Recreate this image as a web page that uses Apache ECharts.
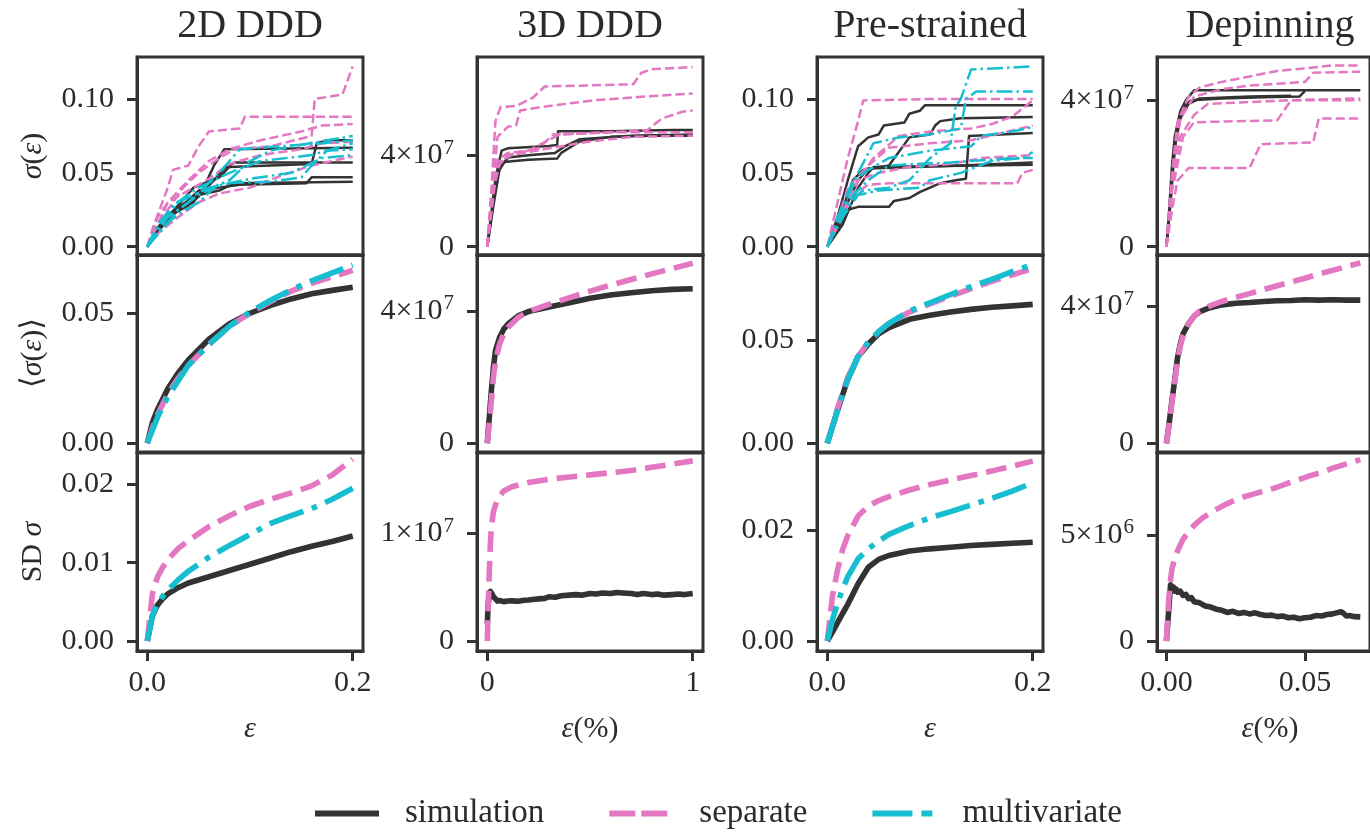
<!DOCTYPE html>
<html>
<head>
<meta charset="utf-8">
<script src="https://cdn.jsdelivr.net/npm/echarts@6/dist/echarts.min.js"></script>
<style>
  html, body { margin: 0; padding: 0; background: #ffffff; }
  #chart { width: 1370px; height: 833px; }
</style>
</head>
<body>
<div id="chart"></div>
<script>
// ---------------------------------------------------------------------------
// Labels and ticks
// ---------------------------------------------------------------------------
const panelTitles = ['2D DDD', '3D DDD', 'Pre-strained', 'Depinning'];
const seriesNames = ['simulation', 'separate', 'multivariate'];

const xTickValues = [[0, 0.2], [0, 1], [0, 0.2], [0, 0.05, 0.1]];
const xTickLabels = [['0.0', '0.2'], ['0', '1'], ['0.0', '0.2'], ['0.00', '0.05', '0.10']];
const xLimits = [[-0.01, 0.21], [-0.05, 1.05], [-0.01, 0.21], [-0.0034, 0.0735]];

const yTickValuesRow1 = [[0, 0.05, 0.1], [0, 4e7], [0, 0.05, 0.1], [0, 4e7]];
const yTickLabelsRow1 = [['0.00', '0.05', '0.10'], ['0', '4×10^7'], ['0.00', '0.05', '0.10'], ['0', '4×10^7']];
const yTickValuesRow2 = [[0, 0.05], [0, 4e7], [0, 0.05], [0, 4e7]];
const yTickLabelsRow2 = [['0.00', '0.05'], ['0', '4×10^7'], ['0.00', '0.05'], ['0', '4×10^7']];
const yTickValuesRow3 = [[0, 0.01, 0.02], [0, 1e7], [0, 0.02], [0, 5e6]];
const yTickLabelsRow3 = [['0.00', '0.01', '0.02'], ['0', '1×10^7'], ['0.00', '0.02'], ['0', '5×10^6']];

const yLimitsRow1 = [[-0.0056, 0.1284], [-0.362e7, 8.29e7], [-0.0056, 0.1284], [-0.226e7, 5.18e7]];
const yLimitsRow2 = [[-0.00335, 0.0724], [-0.263e7, 5.69e7], [-0.0042, 0.0911], [-0.255e7, 5.51e7]];
const yLimitsRow3 = [[-0.00128, 0.024], [-0.093e7, 1.743e7], [-0.0018, 0.03386], [-0.047e7, 0.8865e7]];

// Stress unit of each column (values below are given in these units)
const columnUnits = [1, 1e7, 1, 1e7];
const sdUnits = [1, 1e7, 1, 1e6];

// ---------------------------------------------------------------------------
// Row 1: individual stress-strain runs, [strain, stress]
// ---------------------------------------------------------------------------
const runs2dSimulation = [
  [[0,0],[0.008,0.01],[0.02,0.02],[0.03,0.026],[0.045,0.03],[0.055,0.04],[0.065,0.055],[0.075,0.066],[0.2,0.067]],
  [[0,0],[0.01,0.01],[0.025,0.022],[0.04,0.028],[0.05,0.034],[0.065,0.045],[0.075,0.053],[0.085,0.057],[0.2,0.057]],
  [[0,0],[0.015,0.015],[0.03,0.027],[0.05,0.035],[0.07,0.038],[0.085,0.043],[0.2,0.044]],
  [[0,0],[0.012,0.012],[0.03,0.025],[0.05,0.038],[0.07,0.04],[0.09,0.042],[0.155,0.043],[0.16,0.047],[0.2,0.047]],
  [[0,0],[0.01,0.013],[0.03,0.028],[0.045,0.04],[0.07,0.047],[0.08,0.054],[0.12,0.055],[0.16,0.056],[0.165,0.07],[0.175,0.072],[0.2,0.072]]
];
const runs2dSeparate = [
  [[0,0],[0.005,0.012],[0.012,0.025],[0.02,0.04],[0.025,0.052],[0.04,0.055],[0.05,0.068],[0.06,0.078],[0.09,0.08],[0.095,0.088],[0.2,0.088]],
  [[0,0],[0.01,0.015],[0.02,0.025],[0.035,0.04],[0.05,0.05],[0.07,0.06],[0.085,0.066],[0.12,0.068],[0.16,0.075],[0.163,0.1],[0.19,0.103],[0.2,0.122]],
  [[0,0],[0.008,0.012],[0.02,0.03],[0.04,0.045],[0.06,0.058],[0.08,0.066],[0.11,0.072],[0.15,0.078],[0.17,0.082],[0.2,0.083]],
  [[0,0],[0.012,0.01],[0.03,0.02],[0.05,0.03],[0.07,0.036],[0.1,0.04],[0.13,0.048],[0.16,0.055],[0.18,0.058],[0.2,0.061]],
  [[0,0],[0.01,0.02],[0.02,0.03],[0.04,0.038],[0.06,0.046],[0.08,0.056],[0.11,0.062],[0.15,0.066],[0.17,0.07],[0.2,0.071]]
];
const runs2dMultivariate = [
  [[0,0],[0.015,0.012],[0.03,0.025],[0.05,0.035],[0.08,0.045],[0.1,0.058],[0.12,0.065],[0.15,0.069],[0.2,0.075]],
  [[0,0],[0.01,0.01],[0.03,0.022],[0.05,0.03],[0.07,0.043],[0.12,0.044],[0.15,0.047],[0.16,0.055],[0.175,0.065],[0.2,0.066]],
  [[0,0],[0.012,0.015],[0.03,0.03],[0.06,0.04],[0.1,0.046],[0.14,0.05],[0.17,0.06],[0.2,0.062]],
  [[0,0],[0.02,0.02],[0.04,0.03],[0.07,0.05],[0.09,0.066],[0.13,0.068],[0.17,0.07],[0.2,0.072]],
  [[0,0],[0.01,0.015],[0.025,0.028],[0.05,0.04],[0.08,0.05],[0.11,0.058],[0.16,0.062],[0.2,0.07]]
];

// 3D DDD runs, stress in units of 1e7
const runs3dSimulation = [
  [[0,0],[0.02,1.5],[0.04,3.0],[0.07,4.2],[0.1,4.3],[0.3,4.4],[0.34,4.45],[0.345,5.05],[0.6,5.05],[0.9,5.1],[1,5.1]],
  [[0,0],[0.02,1.3],[0.05,3.2],[0.08,3.7],[0.2,3.8],[0.34,3.85],[0.36,4.1],[0.45,4.6],[0.6,4.8],[0.8,4.85],[1,4.85]],
  [[0,0],[0.03,1.8],[0.06,3.4],[0.1,3.9],[0.2,4.0],[0.33,4.1],[0.38,4.4],[0.45,4.7],[0.7,4.85],[1,4.9]]
];
const runs3dSeparate = [
  [[0,0],[0.02,2.5],[0.04,5.5],[0.065,6.1],[0.14,6.15],[0.22,6.5],[0.28,7.0],[0.5,7.05],[0.71,7.1],[0.75,7.6],[0.8,7.75],[1,7.85]],
  [[0,0],[0.02,2.0],[0.05,4.8],[0.1,5.24],[0.14,5.3],[0.16,5.95],[0.26,6.1],[0.52,6.4],[0.75,6.55],[1,6.7]],
  [[0,0],[0.02,2.2],[0.05,3.8],[0.1,4.1],[0.2,4.2],[0.35,4.9],[0.6,5.0],[0.78,5.1],[0.85,5.6],[0.95,5.9],[1,5.95]],
  [[0,0],[0.03,2.5],[0.06,3.6],[0.1,4.0],[0.25,4.3],[0.32,4.9],[0.6,5.0],[1,5.0]],
  [[0,0],[0.02,1.5],[0.05,3.7],[0.12,4.0],[0.3,4.3],[0.5,4.6],[0.7,4.8],[1,4.85]]
];

// Pre-strained runs
const runsPreSimulation = [
  [[0,0],[0.01,0.02],[0.02,0.045],[0.03,0.068],[0.04,0.074],[0.05,0.076],[0.055,0.082],[0.075,0.084],[0.08,0.09],[0.09,0.092],[0.095,0.0957],[0.2,0.0957]],
  [[0,0],[0.012,0.02],[0.025,0.045],[0.035,0.052],[0.06,0.055],[0.08,0.074],[0.1,0.076],[0.105,0.082],[0.11,0.085],[0.13,0.087],[0.2,0.0878]],
  [[0,0],[0.015,0.015],[0.03,0.04],[0.04,0.05],[0.045,0.054],[0.2,0.0555]],
  [[0,0],[0.01,0.012],[0.02,0.025],[0.03,0.027],[0.06,0.027],[0.065,0.031],[0.08,0.033],[0.09,0.037],[0.1,0.04],[0.11,0.043],[0.125,0.045],[0.135,0.046],[0.138,0.075],[0.2,0.077]],
  [[0,0],[0.01,0.015],[0.02,0.03],[0.03,0.045],[0.04,0.053],[0.13,0.055],[0.2,0.057]]
];
const runsPreSeparate = [
  [[0,0],[0.01,0.03],[0.02,0.06],[0.03,0.085],[0.035,0.099],[0.1,0.1],[0.2,0.1]],
  [[0,0],[0.015,0.02],[0.03,0.045],[0.045,0.06],[0.07,0.075],[0.1,0.078],[0.14,0.08],[0.16,0.083],[0.18,0.088],[0.2,0.099]],
  [[0,0],[0.01,0.015],[0.025,0.035],[0.04,0.042],[0.06,0.043],[0.12,0.043],[0.185,0.043],[0.19,0.05],[0.2,0.052]],
  [[0,0],[0.012,0.02],[0.03,0.045],[0.05,0.05],[0.08,0.054],[0.12,0.056],[0.15,0.06],[0.2,0.062]],
  [[0,0],[0.01,0.018],[0.02,0.04],[0.04,0.055],[0.06,0.067],[0.1,0.07],[0.14,0.072],[0.2,0.082]]
];
const runsPreMultivariate = [
  [[0,0],[0.01,0.015],[0.02,0.03],[0.035,0.038],[0.06,0.04],[0.08,0.045],[0.1,0.06],[0.12,0.07],[0.125,0.095],[0.13,0.1],[0.14,0.12],[0.2,0.122]],
  [[0,0],[0.015,0.025],[0.03,0.05],[0.045,0.07],[0.07,0.074],[0.1,0.076],[0.13,0.08],[0.135,0.1],[0.145,0.105],[0.2,0.105]],
  [[0,0],[0.01,0.02],[0.025,0.045],[0.04,0.052],[0.06,0.06],[0.1,0.065],[0.14,0.068],[0.15,0.075],[0.18,0.078],[0.2,0.081]],
  [[0,0],[0.015,0.02],[0.03,0.035],[0.05,0.038],[0.09,0.04],[0.1,0.045],[0.13,0.05],[0.16,0.058],[0.19,0.06],[0.2,0.064]],
  [[0,0],[0.012,0.018],[0.025,0.035],[0.04,0.045],[0.06,0.055],[0.12,0.057],[0.18,0.06],[0.2,0.06]]
];

// Depinning runs, stress in units of 1e7
const runsDepSimulation = [
  [[0,0],[0.001,1.0],[0.002,2.2],[0.003,3.0],[0.005,3.7],[0.007,4.0],[0.01,4.27],[0.07,4.27]],
  [[0,0],[0.001,0.8],[0.0025,2.3],[0.004,3.3],[0.006,3.8],[0.009,4.0],[0.02,4.05],[0.035,4.08],[0.048,4.1],[0.05,4.25]],
  [[0,0],[0.0015,1.2],[0.003,2.7],[0.005,3.5],[0.008,3.9],[0.012,4.05],[0.03,4.1],[0.045,4.12]]
];
const runsDepSeparate = [
  [[0,0],[0.002,2.0],[0.004,3.4],[0.008,4.1],[0.012,4.35],[0.02,4.5],[0.03,4.65],[0.04,4.8],[0.05,4.87],[0.06,4.95],[0.07,4.95]],
  [[0,0],[0.002,1.8],[0.005,3.5],[0.01,4.1],[0.02,4.3],[0.03,4.4],[0.05,4.5],[0.053,4.75],[0.07,4.78]],
  [[0,0],[0.002,1.6],[0.005,3.0],[0.01,3.6],[0.015,3.9],[0.03,3.95],[0.045,4.0],[0.07,4.05]],
  [[0,0],[0.002,1.5],[0.006,3.0],[0.01,3.4],[0.04,3.45],[0.045,4.0],[0.07,4.0]],
  [[0,0],[0.002,1.0],[0.004,1.8],[0.008,2.15],[0.03,2.15],[0.034,2.8],[0.053,2.85],[0.055,3.5],[0.07,3.5]]
];

// ---------------------------------------------------------------------------
// Row 2: mean stress, row 3: standard deviation (strain grid + values)
// ---------------------------------------------------------------------------
const strainMean2d = [0,0.005,0.01,0.02,0.03,0.04,0.06,0.08,0.1,0.12,0.14,0.16,0.18,0.2];
const mean2dSimulation = [0,0.008,0.013,0.021,0.027,0.032,0.040,0.046,0.050,0.053,0.0555,0.0575,0.0588,0.0600];
const mean2dSeparate = [0,0.006,0.011,0.019,0.025,0.030,0.038,0.045,0.050,0.0545,0.0585,0.0615,0.064,0.0665];
const mean2dMultivariate = [0,0.005,0.010,0.018,0.024,0.030,0.038,0.045,0.0505,0.055,0.059,0.0625,0.0655,0.0685];

const strainMean3d = [0,0.005,0.01,0.02,0.03,0.04,0.06,0.08,0.1,0.15,0.2,0.3,0.4,0.5,0.6,0.7,0.8,0.9,1.0];
const mean3dSimulation = [0,0.4,0.8,1.6,2.3,2.8,3.2,3.45,3.6,3.85,3.98,4.12,4.25,4.38,4.48,4.55,4.61,4.65,4.67];
const mean3dSeparate = [0,0.3,0.6,1.3,2.0,2.5,3.0,3.3,3.5,3.8,3.98,4.2,4.4,4.6,4.78,4.95,5.12,5.28,5.44];

const strainMeanPre = [0,0.01,0.02,0.03,0.04,0.05,0.06,0.08,0.1,0.12,0.14,0.16,0.18,0.2];
const meanPreSimulation = [0,0.016,0.031,0.042,0.048,0.053,0.056,0.060,0.062,0.0635,0.0648,0.0658,0.0665,0.0672];
const meanPreSeparate = [0,0.017,0.032,0.042,0.049,0.054,0.058,0.0635,0.0675,0.0712,0.0748,0.0783,0.0815,0.0845];
const meanPreMultivariate = [0,0.016,0.031,0.042,0.049,0.054,0.058,0.064,0.068,0.072,0.0758,0.0793,0.083,0.0865];

const strainMeanDep = [0,0.001,0.002,0.003,0.004,0.005,0.006,0.008,0.01,0.012,0.015,0.02,0.025,0.03,0.035,0.04,0.045,0.05,0.055,0.06,0.065,0.07];
const meanDepSimulation = [0,0.6,1.25,1.85,2.5,2.9,3.2,3.5,3.72,3.85,3.95,4.05,4.1,4.12,4.15,4.17,4.18,4.2,4.19,4.2,4.19,4.19];
const meanDepSeparate = [0,0.55,1.2,1.8,2.4,2.85,3.15,3.5,3.72,3.87,4.0,4.15,4.27,4.38,4.5,4.61,4.72,4.83,4.95,5.06,5.17,5.28];

const strainSd2d = [0,0.005,0.01,0.015,0.02,0.03,0.04,0.06,0.08,0.1,0.12,0.14,0.16,0.18,0.2];
const sd2dSimulation = [0,0.0032,0.0046,0.0054,0.006,0.0068,0.0074,0.0082,0.009,0.0098,0.0106,0.0114,0.0121,0.0127,0.0134];
const sd2dSeparate = [0,0.006,0.0082,0.0094,0.0104,0.0118,0.0128,0.0146,0.016,0.0172,0.0181,0.0189,0.0198,0.0212,0.0232];
const sd2dMultivariate = [0,0.0032,0.0048,0.0057,0.0065,0.0078,0.0089,0.0107,0.0122,0.0136,0.015,0.016,0.0169,0.0181,0.0195];

const strainSd3dSim = [0,0.005,0.01,0.015,0.02,0.025,0.03,0.04,0.05,0.06,0.08,0.1,0.12,0.15,0.18,0.2,0.22,0.25,0.28,0.3,0.33,0.36,0.4,0.43,0.46,0.5,0.53,0.56,0.6,0.63,0.66,0.7,0.73,0.76,0.8,0.83,0.86,0.9,0.93,0.96,1.0];
const sd3dSimulation = [0.16,0.35,0.44,0.46,0.45,0.43,0.41,0.39,0.37,0.375,0.365,0.37,0.372,0.368,0.378,0.38,0.385,0.39,0.395,0.41,0.405,0.42,0.425,0.43,0.425,0.44,0.435,0.445,0.44,0.45,0.445,0.44,0.43,0.44,0.43,0.435,0.425,0.43,0.435,0.43,0.44];
const strainSd3d = [0,0.005,0.01,0.015,0.02,0.03,0.05,0.08,0.12,0.2,0.3,0.4,0.5,0.6,0.7,0.8,0.9,1.0];
const sd3dSeparate = [0,0.35,0.65,0.9,1.05,1.2,1.32,1.39,1.43,1.47,1.5,1.52,1.54,1.56,1.58,1.61,1.64,1.67];

const strainSdPre = [0,0.005,0.01,0.015,0.02,0.03,0.04,0.05,0.06,0.08,0.1,0.12,0.14,0.16,0.18,0.2];
const sdPreSimulation = [0,0.0016,0.0033,0.005,0.0066,0.0103,0.0133,0.0147,0.0154,0.0162,0.0166,0.0169,0.0172,0.0174,0.0176,0.0178];
const sdPreSeparate = [0,0.008,0.0128,0.0165,0.019,0.0225,0.0243,0.0253,0.026,0.0272,0.0282,0.029,0.0298,0.0306,0.0315,0.0324];
const sdPreMultivariate = [0,0.0038,0.0068,0.0094,0.0116,0.0148,0.0166,0.018,0.0192,0.0208,0.0222,0.0233,0.0245,0.0257,0.027,0.0285];

const strainSdDepSim = [0,0.0008,0.0015,0.002,0.0025,0.003,0.0035,0.004,0.005,0.006,0.007,0.008,0.009,0.01,0.012,0.014,0.016,0.018,0.02,0.022,0.024,0.026,0.028,0.03,0.032,0.034,0.036,0.038,0.04,0.042,0.044,0.046,0.048,0.05,0.052,0.054,0.056,0.058,0.06,0.062,0.063,0.064,0.065,0.066,0.068,0.07];
const sdDepSimulation = [0,1.4,2.65,2.45,2.55,2.35,2.45,2.3,2.35,2.15,2.2,2.0,2.05,1.85,1.8,1.65,1.6,1.5,1.45,1.35,1.4,1.3,1.35,1.28,1.33,1.25,1.2,1.22,1.15,1.18,1.1,1.12,1.05,1.1,1.12,1.2,1.18,1.25,1.28,1.35,1.38,1.3,1.18,1.2,1.15,1.14];
const strainSdDep = [0,0.0008,0.0015,0.002,0.003,0.004,0.006,0.008,0.01,0.013,0.016,0.02,0.024,0.028,0.032,0.036,0.04,0.044,0.048,0.052,0.056,0.06,0.063,0.065,0.068,0.07];
const sdDepSeparate = [0,1.9,2.9,3.4,3.9,4.25,4.8,5.15,5.45,5.8,6.05,6.35,6.6,6.8,6.95,7.1,7.25,7.45,7.62,7.8,7.95,8.15,8.27,8.35,8.47,8.55];

// ---------------------------------------------------------------------------
// Layout and style
// ---------------------------------------------------------------------------
const SERIF = "'Liberation Serif', 'DejaVu Serif', serif";
const INK = '#2b2b2b';
const FRAME = '#333333';
const COLORS = { simulation: '#333333', separate: '#e377c2', multivariate: '#17becf' };
const COL_LEFT = [137, 477, 817, 1157];
const COL_WIDTH = 226;
const ROW_TOP = [57, 255, 453];
const ROW_HEIGHT = [198, 197, 198];
const THIN = 2.5;
const THICK = 5.6;
const TICK_FONT = 30;

function dashFor(name, w) {
  if (name === 'separate') return [3.7 * w, 1.6 * w];
  if (name === 'multivariate') return [6.4 * w, 1.6 * w, 1.0 * w, 1.6 * w];
  return 'solid';
}

function tickFormatter(values, labels) {
  return function (v) {
    const i = values.findIndex(t => Math.abs(t - v) <= 1e-9 * Math.max(1, Math.abs(t)));
    if (i < 0) return '';
    const s = labels[i];
    const k = s.indexOf('^');
    return k < 0 ? s : '{m|' + s.slice(0, k) + '}{s|' + s.slice(k + 1) + '}';
  };
}

const tickRich = {
  m: { fontSize: TICK_FONT, fontFamily: SERIF, color: INK, lineHeight: 35 },
  s: { fontSize: 21, fontFamily: SERIF, color: INK, verticalAlign: 'top', lineHeight: 35, padding: [0, 0, 14, 1] }
};

const yTickValues = [yTickValuesRow1, yTickValuesRow2, yTickValuesRow3];
const yTickLabels = [yTickLabelsRow1, yTickLabelsRow2, yTickLabelsRow3];
const yLimits = [yLimitsRow1, yLimitsRow2, yLimitsRow3];

const grids = [], xAxes = [], yAxes = [], series = [];

for (let r = 0; r < 3; r++) {
  for (let c = 0; c < 4; c++) {
    const bottomRow = r === 2;
    grids.push({
      left: COL_LEFT[c], top: ROW_TOP[r], width: COL_WIDTH, height: ROW_HEIGHT[r],
      show: true, borderColor: FRAME, borderWidth: 3, backgroundColor: 'transparent'
    });
    const gi = grids.length - 1;
    xAxes.push({
      gridIndex: gi, type: 'value', min: xLimits[c][0], max: xLimits[c][1],
      axisLine: { show: true, onZero: false, lineStyle: { color: FRAME, width: 3 } },
      splitLine: { show: false },
      axisTick: { show: bottomRow, inside: false, length: 10, customValues: xTickValues[c],
                  lineStyle: { color: FRAME, width: 3 } },
      axisLabel: { show: bottomRow, customValues: xTickValues[c], margin: 17,
                   formatter: tickFormatter(xTickValues[c], xTickLabels[c]),
                   fontSize: TICK_FONT, fontFamily: SERIF, color: INK, rich: tickRich }
    });
    yAxes.push({
      gridIndex: gi, type: 'value', min: yLimits[r][c][0], max: yLimits[r][c][1],
      axisLine: { show: true, onZero: false, lineStyle: { color: FRAME, width: 3 } },
      splitLine: { show: false },
      axisTick: { show: true, inside: false, length: 10, customValues: yTickValues[r][c],
                  lineStyle: { color: FRAME, width: 3 } },
      axisLabel: { show: true, customValues: yTickValues[r][c], margin: 23,
                   formatter: tickFormatter(yTickValues[r][c], yTickLabels[r][c]),
                   fontSize: TICK_FONT, fontFamily: SERIF, color: INK, rich: tickRich }
    });
  }
}

function addLine(row, col, name, points, width) {
  const gi = row * 4 + col;
  series.push({
    type: 'line', name: name, xAxisIndex: gi, yAxisIndex: gi,
    data: points, showSymbol: false, symbol: 'none', clip: true,
    animation: false, silent: true,
    z: 2 + seriesNames.indexOf(name),
    lineStyle: { color: COLORS[name], width: width, type: dashFor(name, width), cap: 'butt', join: 'round' }
  });
}

function scaled(points, unit) {
  return points.map(p => [p[0], p[1] * unit]);
}
function zipped(xs, ys, unit) {
  return xs.map((x, i) => [x, ys[i] * unit]);
}

// Row 1: individual runs
const runs = [
  { simulation: runs2dSimulation, separate: runs2dSeparate, multivariate: runs2dMultivariate },
  { simulation: runs3dSimulation, separate: runs3dSeparate },
  { simulation: runsPreSimulation, separate: runsPreSeparate, multivariate: runsPreMultivariate },
  { simulation: runsDepSimulation, separate: runsDepSeparate }
];
runs.forEach((group, c) => {
  seriesNames.forEach(name => {
    (group[name] || []).forEach(run => addLine(0, c, name, scaled(run, columnUnits[c]), THIN));
  });
});

// Row 2: mean stress
const means = [
  { simulation: [strainMean2d, mean2dSimulation], separate: [strainMean2d, mean2dSeparate], multivariate: [strainMean2d, mean2dMultivariate] },
  { simulation: [strainMean3d, mean3dSimulation], separate: [strainMean3d, mean3dSeparate] },
  { simulation: [strainMeanPre, meanPreSimulation], separate: [strainMeanPre, meanPreSeparate], multivariate: [strainMeanPre, meanPreMultivariate] },
  { simulation: [strainMeanDep, meanDepSimulation], separate: [strainMeanDep, meanDepSeparate] }
];
means.forEach((group, c) => {
  seriesNames.forEach(name => {
    if (group[name]) addLine(1, c, name, zipped(group[name][0], group[name][1], columnUnits[c]), THICK);
  });
});

// Row 3: standard deviation
const sds = [
  { simulation: [strainSd2d, sd2dSimulation], separate: [strainSd2d, sd2dSeparate], multivariate: [strainSd2d, sd2dMultivariate] },
  { simulation: [strainSd3dSim, sd3dSimulation], separate: [strainSd3d, sd3dSeparate] },
  { simulation: [strainSdPre, sdPreSimulation], separate: [strainSdPre, sdPreSeparate], multivariate: [strainSdPre, sdPreMultivariate] },
  { simulation: [strainSdDepSim, sdDepSimulation], separate: [strainSdDep, sdDepSeparate] }
];
sds.forEach((group, c) => {
  seriesNames.forEach(name => {
    if (group[name]) addLine(2, c, name, zipped(group[name][0], group[name][1], sdUnits[c]), THICK);
  });
});

// Titles and axis names
const textRich = {
  i: { fontStyle: 'italic', fontSize: 30, fontFamily: SERIF, fill: INK, color: INK },
  n: { fontSize: 30, fontFamily: SERIF, fill: INK, color: INK }
};
const graphics = [];
panelTitles.forEach((t, c) => {
  graphics.push({
    type: 'text', x: COL_LEFT[c] + COL_WIDTH / 2, y: 26, silent: true,
    style: { text: t, fontSize: 40, fontFamily: SERIF, fill: INK, textAlign: 'center', textVerticalAlign: 'middle' }
  });
});
const rowLabelText = ['{i|σ}{n|(}{i|ε}{n|)}', '{n|⟨}{i|σ}{n|(}{i|ε}{n|)⟩}', '{n|SD }{i|σ}'];
const rowLabelCenters = [156, 353, 552];
rowLabelText.forEach((t, r) => {
  graphics.push({
    type: 'text', x: 33, y: rowLabelCenters[r], rotation: Math.PI / 2, silent: true,
    style: { text: t, rich: textRich, fontSize: 30, fontFamily: SERIF, fill: INK, textAlign: 'center', textVerticalAlign: 'middle' }
  });
});
const xNameText = ['{i|ε}', '{i|ε}{n|(%)}', '{i|ε}', '{i|ε}{n|(%)}'];
xNameText.forEach((t, c) => {
  graphics.push({
    type: 'text', x: COL_LEFT[c] + COL_WIDTH / 2, y: 729, silent: true,
    style: { text: t, rich: textRich, fontSize: 30, fontFamily: SERIF, fill: INK, textAlign: 'center', textVerticalAlign: 'middle' }
  });
});

const chart = echarts.init(document.getElementById('chart'), null, { renderer: 'canvas' });
chart.setOption({
  backgroundColor: '#ffffff',
  animation: false,
  grid: grids,
  xAxis: xAxes,
  yAxis: yAxes,
  series: series,
  graphic: graphics,
  legend: {
    left: 312, top: 797, padding: 0,
    itemWidth: 64, itemHeight: 14, itemGap: 62,
    itemStyle: { opacity: 0 },
    textStyle: { fontSize: 33, fontFamily: SERIF, color: INK, padding: [0, 0, 0, 21] },
    data: [
      { name: 'simulation', lineStyle: { color: COLORS.simulation, width: 6, type: 'solid' } },
      { name: 'separate', lineStyle: { color: COLORS.separate, width: 6, type: [26, 6] } },
      { name: 'multivariate', lineStyle: { color: COLORS.multivariate, width: 6, type: [40, 9, 11, 9] } }
    ]
  }
});
</script>
</body>
</html>
